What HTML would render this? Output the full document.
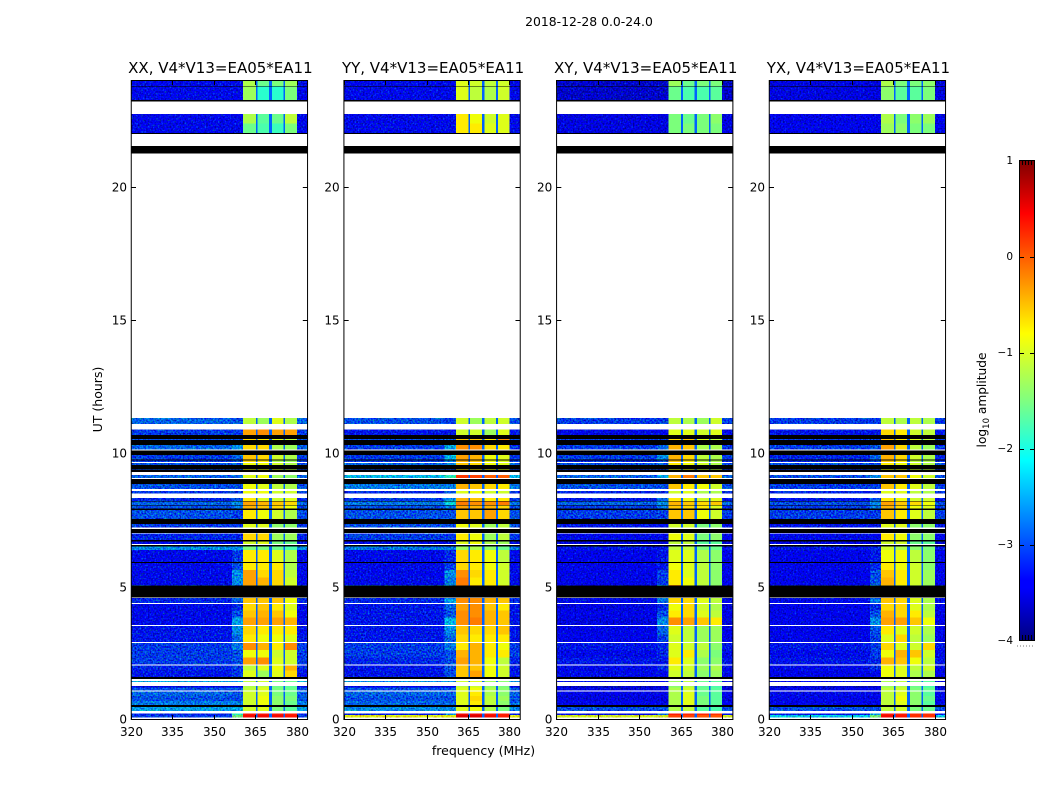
<!DOCTYPE html>
<html>
<head>
<meta charset="utf-8">
<title>2018-12-28 dynamic spectra</title>
<style>
html,body{margin:0;padding:0;background:#fff;}
svg{display:block;}
text{font-family:"DejaVu Sans","Liberation Sans",sans-serif;fill:#000;}
</style>
</head>
<body>
<svg id="figure" xmlns="http://www.w3.org/2000/svg" width="1050" height="800" viewBox="0 0 1050 800">
  <defs>
    <linearGradient id="jet" x1="0" y1="1" x2="0" y2="0">
      <stop offset="0" stop-color="#00007f"/>
      <stop offset="0.11" stop-color="#0000ff"/>
      <stop offset="0.125" stop-color="#0000ff"/>
      <stop offset="0.375" stop-color="#00ffff"/>
      <stop offset="0.5" stop-color="#80ff80"/>
      <stop offset="0.64" stop-color="#ffff00"/>
      <stop offset="0.89" stop-color="#ff0000"/>
      <stop offset="1" stop-color="#7f0000"/>
    </linearGradient>
    <filter id="speckle" x="0" y="0" width="100%" height="100%" color-interpolation-filters="sRGB">
      <feTurbulence type="fractalNoise" baseFrequency="0.6" numOctaves="1" seed="7" result="n"/>
      <feColorMatrix in="n" type="matrix" values="0 0 0 0 0.56  1 0 0 0 0  0 1 0 0 0  0 0 0 0 1" result="g"/>
      <feComposite in="SourceGraphic" in2="g" operator="arithmetic" k1="0" k2="1" k3="1.3" k4="-0.73" result="m"/>
      <feComposite in="m" in2="SourceAlpha" operator="in"/>
    </filter>
  </defs>
  <rect width="1050" height="800" fill="#fff"/>
  <text x="589" y="26" font-size="12.4" text-anchor="middle">2018-12-28 0.0-24.0</text>
  <text x="483.5" y="755" font-size="12.5" text-anchor="middle">frequency (MHz)</text>
  <text transform="translate(102 399.5) rotate(-90)" font-size="12.5" text-anchor="middle">UT (hours)</text>
  <g id="panels"></g>
  <g id="colorbar">
    <rect x="1019.5" y="160.5" width="15" height="480" fill="url(#jet)" stroke="#000" stroke-width="1"/>
    <text transform="translate(986 400) rotate(-90)" font-size="12.2" text-anchor="middle">log<tspan font-size="8.5" dy="3">10</tspan><tspan dy="-3"> amplitude</tspan></text>
    <line x1="1017" x2="1035" y1="646" y2="646" stroke="#777" stroke-width="1" stroke-dasharray="1 2"/>
  </g>
</svg>
<script>
// --- axis values -----------------------------------------------------------
const panelTitles = ["XX, V4*V13=EA05*EA11", "YY, V4*V13=EA05*EA11", "XY, V4*V13=EA05*EA11", "YX, V4*V13=EA05*EA11"];
const panelIds = ["xx", "yy", "xy", "yx"];
const freqTicks = [320, 335, 350, 365, 380];
const timeTicks = [0, 5, 10, 15, 20];
const colorTicks = [1, 0, -1, -2, -3, -4];
const freqDomain = [320, 384];
const timeDomain = [0, 24];
const colorDomain = [-4, 1];

// frequency channel groups (MHz): low, near, s1, gap, s2, gap, s3, gap, s4, right
const freqEdges = [320, 356.5, 360.6, 365.2, 365.8, 370, 371, 375.2, 375.8, 380, 384];
const gapLevel = -2.9;

// time bands (hours); kinds: W = no data, K = flagged/black, D = data row
const timeEdges = [0,.10,.18,.25,.33,.49,.57,.72,.90,1.07,1.11,1.22,1.27,1.42,1.46,1.54,1.61,1.85,2.04,2.08,2.35,2.62,2.89,2.93,3.2,3.53,3.56,3.85,4.1,4.35,4.39,4.58,4.6,5.04,5.07,5.35,5.62,5.89,5.93,6.38,6.5,6.57,6.6,6.69,6.75,6.99,7.01,7.17,7.21,7.35,7.54,7.88,7.94,8.04,8.06,8.2,8.22,8.33,8.49,8.59,8.66,8.85,9.04,9.08,9.19,9.3,9.39,9.42,9.56,9.64,9.68,9.74,9.77,9.94,10.11,10.15,10.31,10.5,10.54,10.68,10.9,11.1,11.33,21.24,21.53,21.98,22.01,22.37,22.73,23.19,23.25,23.75,23.78,24];
const rowKinds = "WDDWD KDDDW DDWDW KDDWD DDWDD WDDDW DWKDD DDKDD KWDKD WKWDK DKDKD KDWDW DKWDW KDKDW DKDKW DKDKD WDWKW KDDWK DKD".replace(/ /g, "");

// log10 amplitude for each data row, bottom to top: [low, near, s1, s2, s3, s4]
const xxAmp = [
[-3.0,-1.6,.5,.5,.5,.45],[-3.1,-2.0,.45,.45,.45,.4],[-2.5,-2.5,-1.0,-.9,-1.5,-1.7],[-2.7,-2.7,-1.0,-.8,-1.4,-1.6],[-2.9,-2.9,-1.0,-.8,-1.4,-1.5],[-2.8,-2.9,-1.0,-.9,-1.5,-1.6],
[-2.9,-2.9,-1.1,-.9,-1.5,-1.6],[-3.4,-3.4,-1.2,-1.1,-1.6,-1.7],[-2.5,-2.5,-1.1,-1.0,-1.5,-1.6],[-3.2,-3.0,-.9,-1.3,-.9,-.6],[-3.1,-3.0,-1.1,-.9,-.8,-.4],
[-3.0,-2.9,-.3,-.2,-.9,-1.0],[-3.0,-2.9,-.8,-.8,-1.0,-1.0],[-3.0,-2.7,-.2,-.4,-.7,-.2],[-3.2,-2.8,-.7,-.8,-.8,-.9],[-3.2,-2.6,-.6,-.7,-.7,-.7],
[-3.3,-2.5,-.3,-.3,-.3,-.4],[-3.3,-2.9,-.5,-.4,-.5,-.8],[-3.3,-3.1,-.6,-.5,-.7,-.9],[-3.1,-2.8,-.5,-.5,-.5,-.8],[-3.0,-2.8,-.4,-.6,-.7,-.9],
[-3.3,-2.6,-.3,-.4,-.6,-1.0],[-3.3,-2.6,-.3,-.6,-.6,-1.1],[-3.3,-2.9,-.7,-.7,-.7,-1.2],[-3.3,-3.0,-.7,-.7,-.9,-1.2],[-2.6,-2.6,-1.5,-1.5,-1.6,-1.8],
[-3.3,-3.3,-1.0,-.9,-1.5,-1.6],[-3.1,-3.1,-.6,-.6,-1.3,-1.3],[-3.0,-3.0,-.9,-.9,-1.4,-1.4],[-2.9,-3.0,-.7,-.8,-1.0,-1.2],[-2.9,-2.7,-.4,-.5,-.6,-.8],
[-2.8,-2.6,-.3,-.4,-.5,-.6],[-3.1,-2.9,-.7,-.9,-1.0,-.9],[-3.0,-3.0,-.8,-.8,-1.0,-1.0],[-2.9,-2.9,-.8,-.9,-1.1,-1.2],[-2.8,-2.8,-.9,-.8,-1.3,-1.4],
[-2.9,-2.9,-.8,-.8,-1.0,-1.1],[-2.9,-2.8,-.8,-.8,-1.0,-1.2],[-3.0,-2.9,-.6,-.7,-1.2,-1.3],[-3.0,-2.8,-.5,-.6,-1.0,-1.2],[-2.8,-2.6,-.6,-.6,-1.2,-1.3],
[-2.9,-2.9,-.6,-.7,-.9,-1.1],[-3.0,-3.0,-.3,-.2,-.3,-.3],[-2.8,-2.9,-1.1,-1.3,-.9,-1.2],[-3.3,-3.3,-1.6,-1.8,-1.9,-1.5],[-3.3,-3.3,-1.2,-1.7,-1.6,-1.1],
[-3.3,-3.3,-1.3,-2.0,-2.0,-1.5],[-3.3,-3.3,-1.2,-1.6,-1.5,-1.3]
];
const yyAmp = [
[-.9,-.9,.6,.6,.5,.4],[-3.2,-2.6,.5,.5,.45,.4],[-2.6,-2.6,-.9,-.8,-1.2,-1.5],[-2.8,-2.8,-.9,-.7,-1.1,-1.4],[-2.9,-2.9,-.9,-.6,-1.1,-1.3],[-2.8,-2.8,-.9,-.7,-1.2,-1.4],
[-2.9,-2.9,-.9,-.8,-1.2,-1.4],[-3.4,-3.4,-1.1,-1.0,-1.4,-1.5],[-2.6,-2.6,-1.0,-.9,-1.3,-1.4],[-3.2,-2.9,-.5,-.3,-.8,-1.0],[-3.2,-2.9,-.5,-.5,-.8,-1.0],
[-3.1,-2.9,-.3,-.4,-.8,-1.1],[-3.0,-2.9,-.4,-.4,-.7,-.7],[-3.0,-2.7,-.7,-.4,-.7,-.8],[-3.2,-2.8,-.6,-.7,-.7,-.7],[-3.2,-2.6,-.5,-.6,-.6,-.5],
[-3.2,-2.4,-.2,-.1,-.4,-.5],[-3.2,-2.9,-.2,-.2,-.4,-.5],[-3.2,-2.8,-.3,-.2,-.5,-.7],[-3.1,-2.5,-.2,-.2,-.4,-.5],[-2.9,-2.4,-.1,-.5,-.7,-.8],
[-3.3,-2.7,-.1,-.7,-.7,-1.0],[-3.3,-2.6,-.2,-.6,-.7,-1.0],[-3.3,-3.0,-.6,-.7,-.8,-1.0],[-3.3,-3.1,-.6,-.7,-.8,-1.1],[-2.7,-2.7,-1.3,-1.2,-1.4,-1.6],
[-3.3,-3.3,-.9,-.8,-1.2,-1.3],[-3.0,-3.0,-.7,-.8,-1.3,-1.1],[-2.9,-2.9,-.8,-.9,-1.3,-1.1],[-2.9,-2.9,-.5,-.5,-.3,-.6],[-2.9,-2.7,-.3,-.4,-.4,-.6],
[-2.7,-2.2,-.1,-.2,-.2,-.1],[-3.0,-2.6,-.4,-.5,-.7,-.7],[-3.1,-2.8,-.9,-.8,-1.0,-1.0],[-2.7,-2.7,-.4,-.5,-.6,-.7],[-2.4,-2.0,.25,.2,.05,.05],
[-2.9,-2.9,-.6,-.7,-.8,-.9],[-2.8,-2.6,-.5,-.6,-.8,-.9],[-3.0,-2.7,-.4,-.5,-.8,-.9],[-3.0,-2.4,-.3,-.4,-.8,-.9],[-3.0,-2.5,-.2,-.2,-.6,-.7],
[-2.9,-2.8,-.5,-.5,-.7,-.2],[-3.2,-3.2,-1.0,-1.0,-1.3,-.9],[-2.9,-3.0,-1.0,-1.3,-1.1,-1.0],[-3.3,-3.3,-.7,-.7,-.9,-.9],[-3.3,-3.3,-.7,-.8,-1.0,-.9],
[-3.3,-3.3,-.9,-1.1,-1.2,-1.0],[-3.3,-3.3,-.9,-1.0,-1.1,-1.0]
];
const xyAmp = [
[-1.0,-1.0,.2,.2,.1,.1],[-3.3,-2.8,.4,.35,.35,.3],[-2.9,-2.9,-1.2,-1.1,-1.7,-1.8],[-3.4,-3.4,-1.2,-.9,-1.5,-1.7],[-3.5,-3.5,-1.2,-.9,-1.5,-1.7],[-3.4,-3.4,-1.2,-.9,-1.6,-1.7],
[-3.5,-3.5,-1.2,-1.0,-1.6,-1.7],[-3.6,-3.6,-1.4,-1.2,-1.7,-1.8],[-3.3,-3.3,-1.3,-1.1,-1.6,-1.7],[-3.3,-3.3,-1.0,-1.1,-1.4,-1.3],[-3.3,-3.1,-.9,-1.0,-1.3,-1.2],
[-3.2,-3.2,-.7,-.9,-1.4,-1.4],[-3.3,-3.1,-.9,-.7,-1.2,-1.5],[-3.2,-3.1,-.9,-1.0,-1.1,-1.4],[-3.4,-3.0,-1.0,-1.1,-1.3,-1.3],[-3.4,-2.8,-.9,-1.1,-1.3,-1.3],
[-3.5,-2.6,-.2,-.3,-.5,-.7],[-3.4,-2.9,-.7,-.6,-.9,-1.1],[-3.5,-3.1,-.8,-.6,-1.0,-1.2],[-3.3,-2.7,-.6,-.6,-.9,-1.1],[-3.3,-2.5,-.2,-.9,-1.2,-1.4],
[-3.4,-3.0,-.7,-.8,-1.1,-1.4],[-3.4,-3.0,-.7,-.9,-1.1,-1.4],[-3.4,-3.2,-.8,-.9,-1.1,-1.4],[-3.4,-3.2,-.9,-.9,-1.2,-1.4],[-3.2,-3.2,-1.1,-1.1,-1.5,-1.6],
[-3.5,-3.5,-1.1,-1.1,-1.7,-1.7],[-3.3,-3.3,-.8,-.9,-1.5,-1.4],[-3.2,-3.2,-1.0,-1.0,-1.5,-1.4],[-3.0,-3.0,-.5,-.5,-.8,-1.0],[-3.0,-2.7,-.5,-.6,-.7,-.9],
[-2.8,-2.6,-.4,-.5,-.6,-.5],[-3.2,-2.8,-.7,-.8,-1.0,-.9],[-3.1,-3.1,-1.0,-.9,-1.2,-1.2],[-2.9,-2.9,-.5,-.7,-.8,-1.0],[-2.8,-2.5,-.4,-.1,-.5,-.5],
[-3.0,-3.0,-.8,-.8,-1.0,-1.1],[-2.9,-2.8,-.7,-.8,-1.0,-1.2],[-3.1,-2.9,-.5,-.7,-1.1,-1.2],[-3.0,-2.6,-.4,-.6,-1.1,-1.2],[-3.0,-2.8,-.4,-.5,-1.2,-1.2],
[-3.0,-3.0,-.6,-.5,-.9,-1.1],[-3.3,-3.3,-.9,-.9,-1.0,-.9],[-3.0,-3.0,-1.1,-1.2,-1.3,-1.0],[-3.5,-3.5,-1.5,-1.5,-1.5,-1.5],[-3.5,-3.5,-1.5,-1.6,-1.5,-1.4],
[-3.6,-3.6,-1.6,-1.8,-1.8,-1.7],[-3.6,-3.6,-1.3,-1.6,-1.5,-1.5]
];
const yxAmp = [
[-2.3,-1.6,.5,.45,.3,.3],[-3.2,-2.5,.45,.4,.3,.3],[-2.9,-2.9,-1.1,-1.0,-1.5,-1.6],[-3.4,-3.4,-1.1,-.9,-1.4,-1.7],[-3.4,-3.4,-1.1,-.8,-1.4,-1.6],[-3.3,-3.3,-1.1,-.9,-1.4,-1.7],
[-3.4,-3.4,-1.1,-1.0,-1.5,-1.6],[-3.6,-3.6,-1.3,-1.2,-1.6,-1.8],[-3.3,-3.3,-1.2,-1.1,-1.5,-1.7],[-3.4,-3.3,-.8,-.9,-1.2,-1.2],[-3.3,-3.1,-.8,-.9,-1.1,-1.0],
[-3.2,-3.1,-.4,-.5,-.8,-1.1],[-3.3,-3.0,-.8,-.4,-.5,-1.0],[-3.2,-3.0,-.6,-.9,-1.0,-.6],[-3.4,-3.0,-.9,-.6,-1.1,-1.3],[-3.4,-2.9,-.7,-.9,-1.0,-1.2],
[-3.4,-2.6,-.3,-.3,-.5,-.8],[-3.4,-2.9,-.4,-.6,-.7,-1.1],[-3.4,-3.1,-.6,-.6,-.9,-1.2],[-3.3,-2.7,-.5,-.6,-.9,-1.2],[-3.2,-2.5,-.5,-.9,-1.1,-1.4],
[-3.4,-2.9,-.4,-.7,-1.0,-1.3],[-3.4,-2.9,-.5,-.7,-1.0,-1.3],[-3.4,-3.1,-.7,-.8,-1.0,-1.4],[-3.4,-3.2,-.8,-.8,-1.1,-1.4],[-3.2,-3.1,-1.0,-1.2,-1.4,-1.5],
[-3.5,-3.5,-1.0,-1.0,-1.6,-1.7],[-3.3,-3.3,-.7,-.8,-1.4,-1.4],[-3.2,-3.2,-.9,-.9,-1.4,-1.4],[-3.0,-3.0,-.5,-.7,-.9,-1.1],[-3.0,-2.7,-.4,-.6,-.8,-.9],
[-2.9,-2.6,-.3,-.5,-.6,-.8],[-3.2,-2.9,-.7,-.8,-1.0,-1.0],[-3.1,-3.1,-.9,-.9,-1.1,-1.2],[-3.0,-3.0,-.5,-.7,-.9,-1.1],[-2.9,-2.6,-.5,-.5,-.8,-1.0],
[-3.0,-3.0,-.8,-.8,-1.0,-1.1],[-2.9,-2.9,-.7,-.8,-1.0,-1.2],[-3.1,-3.0,-.5,-.7,-1.1,-1.2],[-3.1,-2.8,-.4,-.6,-1.0,-1.2],[-3.0,-2.9,-.3,-.6,-1.1,-1.3],
[-3.0,-3.0,-.5,-.7,-.9,-1.1],[-3.2,-3.2,-.6,-.7,-1.0,-1.1],[-3.0,-3.0,-1.1,-1.2,-1.1,-1.2],[-3.4,-3.4,-1.3,-1.4,-1.5,-1.5],[-3.4,-3.4,-1.2,-1.5,-1.4,-1.3],
[-3.5,-3.5,-1.4,-1.7,-1.7,-1.5],[-3.5,-3.5,-1.2,-1.5,-1.5,-1.4]
];
const panelAmps = [xxAmp, yyAmp, xyAmp, yxAmp];

// --- layout ----------------------------------------------------------------
const plotLefts = [131, 343.67, 556.33, 769];
const plotWidth = 176.8, plotTop = 80, plotBottom = 720;
const NS = "http://www.w3.org/2000/svg";

function xScale(f, left) { return left + (f - freqDomain[0]) / (freqDomain[1] - freqDomain[0]) * plotWidth; }
function yScale(h) { return plotBottom - (h - timeDomain[0]) / (timeDomain[1] - timeDomain[0]) * (plotBottom - plotTop); }
function cbScale(v) { return 640.5 - (v - colorDomain[0]) / (colorDomain[1] - colorDomain[0]) * 480; }

function jet(v) {
  const t = Math.max(0, Math.min(1, (v - colorDomain[0]) / (colorDomain[1] - colorDomain[0])));
  const c = (x) => Math.round(255 * Math.max(0, Math.min(1, x)));
  const r = t < .35 ? 0 : t < .66 ? (t - .35) / .31 : t < .89 ? 1 : 1 - (t - .89) / .11 * .5;
  const g = t < .125 ? 0 : t < .375 ? (t - .125) / .25 : t < .64 ? 1 : t < .91 ? 1 - (t - .64) / .27 : 0;
  const b = t < .11 ? .5 + t / .11 * .5 : t < .34 ? 1 : t < .65 ? 1 - (t - .34) / .31 : 0;
  return "rgb(" + c(r) + "," + c(g) + "," + c(b) + ")";
}
function svgEl(tag, attrs, parent) {
  const el = document.createElementNS(NS, tag);
  for (const k in attrs) el.setAttribute(k, attrs[k]);
  parent.appendChild(el);
  return el;
}

const panelsRoot = document.getElementById("panels");

panelTitles.forEach(function (title, p) {
  const left = plotLefts[p], right = left + plotWidth, id = panelIds[p], amps = panelAmps[p];

  const g = svgEl("g", {}, panelsRoot);
  
  

  const bg = svgEl("rect", { x: left, y: plotTop, width: plotWidth, height: plotBottom - plotTop, fill: "#fff" }, g);
  
  

  const flagged = svgEl("g", { "shape-rendering": "crispEdges" }, g);
  
  

  const cellsNoise = svgEl("g", { "shape-rendering": "crispEdges", filter: "url(#speckle)" }, g);
  
  

  const cellsBand = svgEl("g", { "shape-rendering": "crispEdges" }, g);
  
  

  let d = 0;
  for (let i = 0; i < rowKinds.length; i++) {
    const kind = rowKinds[i];
    const yTop = yScale(timeEdges[i + 1]), yBot = yScale(timeEdges[i]);
    if (kind === "K") {
      const bar = svgEl("rect", { x: left, y: yTop, width: plotWidth, height: yBot - yTop, fill: "#000" }, flagged);
      
      
    } else if (kind === "D") {
      const row = amps[d++];
      const colValues = [row[0], row[1], row[2], gapLevel, row[3], gapLevel, row[4], gapLevel, row[5], row[0]];
      for (let c = 0; c < colValues.length; c++) {
        const x0 = xScale(freqEdges[c], left), x1 = xScale(freqEdges[c + 1], left);
        const isBackground = c < 2 || c === colValues.length - 1;
        const cell = svgEl("rect", { x: x0, y: yTop, width: x1 - x0, height: yBot - yTop, fill: jet(colValues[c]) }, isBackground ? cellsNoise : cellsBand);
        
        
      }
    }
  }

  const frame = svgEl("rect", { x: left + .25, y: plotTop + .5, width: plotWidth - .5, height: plotBottom - plotTop - 1, fill: "none", stroke: "#000", "stroke-width": 1 }, g);
  
  

  const t = svgEl("text", { x: left + plotWidth / 2 + 1, y: 73, "font-size": 15, "text-anchor": "middle" }, g);
  t.textContent = title;
  
  

  freqTicks.forEach(function (f) {
    const x = Math.round(xScale(f, left)) + .5;
    const b = svgEl("line", { x1: x, x2: x, y1: plotBottom, y2: plotBottom - 5, stroke: "#000" }, g);
    
    
    const u = svgEl("line", { x1: x, x2: x, y1: plotTop, y2: plotTop + 5, stroke: "#000" }, g);
    
    
    const lab = svgEl("text", { x: x, y: 736, "font-size": 12, "text-anchor": "middle" }, g);
    lab.textContent = f;
    
    
  });

  timeTicks.forEach(function (h) {
    const y = Math.round(yScale(h)) + (h === 0 ? -.5 : .5);
    const l = svgEl("line", { x1: left, x2: left + 5, y1: y, y2: y, stroke: "#000" }, g);
    
    
    const r = svgEl("line", { x1: right - 5, x2: right, y1: y, y2: y, stroke: "#000" }, g);
    
    
    const lab = svgEl("text", { x: left - 4, y: y + 3.8, "font-size": 12, "text-anchor": "end" }, g);
    lab.textContent = h;
    
    
  });
});

// --- colorbar ticks --------------------------------------------------------
const cb = document.getElementById("colorbar");
colorTicks.forEach(function (v) {
  const y = Math.round(cbScale(v)) + .5;
  if (v !== 1 && v !== -4) {
    const a = svgEl("line", { x1: 1020, x2: 1024, y1: y, y2: y, stroke: "#000" }, cb);
    
    
    const b = svgEl("line", { x1: 1030, x2: 1034, y1: y, y2: y, stroke: "#000" }, cb);
    
    
  }
  const lab = svgEl("text", { x: 1013, y: y + 2.5, "font-size": 10.5, "text-anchor": "end" }, cb);
  lab.textContent = String(v).replace("-", "\u2212");
  
  
});
[1022, 1025, 1028, 1031].forEach(function (x) {
  const top = svgEl("line", { x1: x + .5, x2: x + .5, y1: 161, y2: 165, stroke: "#000" }, cb);
  
  
  const bot = svgEl("line", { x1: x + .5, x2: x + .5, y1: 635, y2: 640, stroke: "#000" }, cb);
  
  
});
</script>
</body>
</html>
